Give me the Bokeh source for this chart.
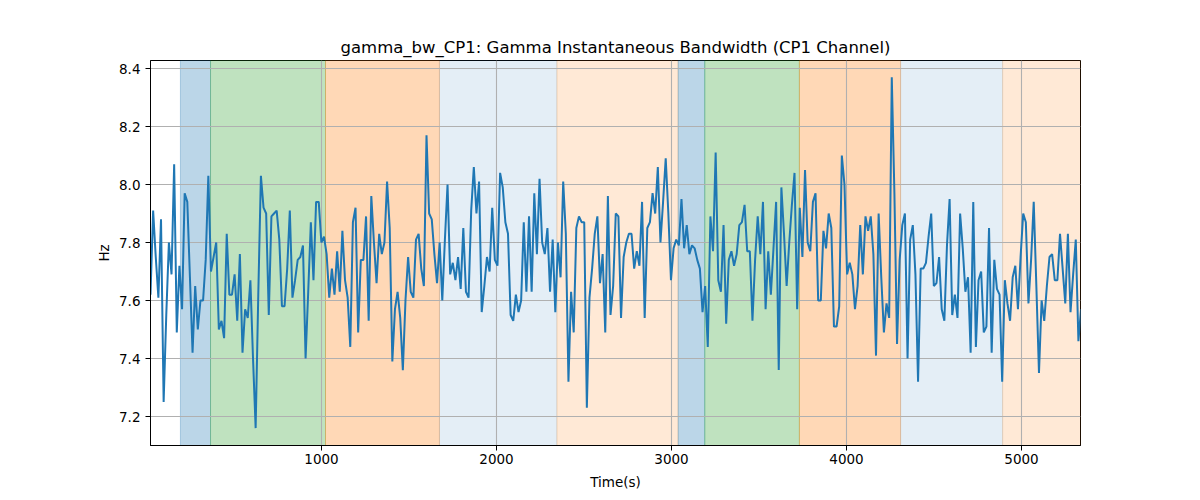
from bokeh.plotting import figure
from bokeh.models import BoxAnnotation, FixedTicker, PrintfTickFormatter, Range1d
from bokeh.embed import file_html
from bokeh.resources import INLINE

# ---- data ----
T0 = 23.0
DT = 15.02
bandwidth = [
    7.62, 7.91, 7.75, 7.61, 7.88, 7.25, 7.55, 7.80, 7.69, 8.07,
    7.49, 7.72, 7.57, 7.97, 7.94, 7.68, 7.42, 7.65, 7.50, 7.60,
    7.60, 7.74, 8.03, 7.70, 7.75, 7.80, 7.50, 7.53, 7.47, 7.83,
    7.62, 7.62, 7.69, 7.53, 7.76, 7.42, 7.57, 7.54, 7.67, 7.40,
    7.16, 7.62, 8.03, 7.92, 7.90, 7.55, 7.89, 7.90, 7.91, 7.81,
    7.58, 7.58, 7.71, 7.91, 7.61, 7.67, 7.74, 7.75, 7.79, 7.40,
    7.63, 7.87, 7.67, 7.94, 7.94, 7.80, 7.82, 7.76, 7.61, 7.71,
    7.62, 7.77, 7.63, 7.84, 7.67, 7.61, 7.44, 7.87, 7.92, 7.49,
    7.74, 7.74, 7.89, 7.53, 7.96, 7.80, 7.66, 7.83, 7.76, 7.80,
    8.01, 7.85, 7.39, 7.57, 7.63, 7.54, 7.36, 7.60, 7.75, 7.63,
    7.61, 7.81, 7.83, 7.71, 7.65, 8.17, 7.90, 7.88, 7.76, 7.66,
    7.80, 7.60, 7.81, 8.00, 7.69, 7.73, 7.67, 7.75,
    7.64, 7.85, 7.63, 7.61, 7.91, 8.06, 7.90, 8.01, 7.56, 7.65,
    7.75, 7.70, 7.92, 7.74, 7.72, 8.04, 7.99, 7.87, 7.83, 7.55,
    7.53, 7.62, 7.56, 7.60, 7.87, 7.63, 7.89, 7.63, 7.97, 7.76,
    8.02, 7.80, 7.76, 7.85, 7.63, 7.81, 7.56, 7.80, 7.68, 8.01,
    7.83, 7.32, 7.63, 7.49, 7.85, 7.89, 7.87, 7.87, 7.23, 7.61,
    7.71, 7.83, 7.89, 7.66, 7.76, 7.49, 7.96,
    7.55, 7.65, 7.90, 7.89, 7.54, 7.75, 7.80, 7.83, 7.83, 7.71,
    7.77, 7.72, 7.94, 7.54, 7.85, 7.87, 7.97, 7.90, 8.06, 7.80,
    7.94, 8.09, 7.90, 7.67, 7.78, 7.81, 7.79, 7.95, 7.78, 7.86,
    7.76, 7.79, 7.78, 7.74, 7.71, 7.56, 7.65, 7.44, 7.89, 7.77,
    8.11, 7.67, 7.63, 7.86, 7.52, 7.74, 7.77, 7.72, 7.76, 7.86,
    7.87, 7.93, 7.77, 7.77, 7.53, 7.74, 7.89,
    7.76, 7.94, 7.57, 7.77, 7.62, 7.78, 7.94, 7.36, 7.99, 7.83,
    7.65, 7.80, 7.93, 8.04, 7.57, 7.92, 7.75, 8.05, 7.80, 7.77,
    7.94, 7.97, 7.60, 7.60, 7.84, 7.78, 7.90, 7.85, 7.51, 7.51,
    7.58, 8.10, 8.00, 7.69, 7.73, 7.69, 7.57, 7.65, 7.86, 7.69,
    7.89, 7.84, 7.89, 7.76, 7.41, 7.90, 7.68, 7.49, 7.59, 7.54,
    8.37, 7.97, 7.45, 7.74, 7.86, 7.90, 7.40,
    7.81, 7.86, 7.69, 7.32, 7.71, 7.71, 7.73, 7.82, 7.90, 7.65,
    7.66, 7.75, 7.57, 7.53, 7.79, 7.95, 7.55, 7.62, 7.54, 7.90,
    7.78, 7.63, 7.68, 7.42, 7.94, 7.44, 7.67, 7.70, 7.49, 7.51,
    7.85, 7.42, 7.74, 7.64, 7.62, 7.32, 7.67, 7.59, 7.53, 7.68,
    7.72, 7.57, 7.75, 7.90, 7.87, 7.59, 7.74, 7.94, 7.65, 7.35,
    7.60, 7.53, 7.65, 7.75, 7.76, 7.67, 7.67, 7.83, 7.71, 7.59,
    7.83, 7.56, 7.69, 7.81, 7.46, 7.57,
]
time_s = [T0 + i * DT for i in range(len(bandwidth))]

span_start = [194, 366, 1023, 1674, 2345, 3038, 3190, 3731, 4309, 4892]
span_end = [366, 1023, 1674, 2345, 3038, 3190, 3731, 4309, 4892, 5340]
span_color = ["#1f77b4", "#2ca02c", "#ff7f0e", "#1f77b4", "#ff7f0e",
              "#1f77b4", "#2ca02c", "#ff7f0e", "#1f77b4", "#ff7f0e"]
span_alpha = [0.3, 0.3, 0.3, 0.12, 0.17, 0.3, 0.3, 0.3, 0.12, 0.17]

x_ticks = [1000, 2000, 3000, 4000, 5000]
y_ticks = [7.2, 7.4, 7.6, 7.8, 8.0, 8.2, 8.4]
X_MIN, X_MAX = 23, 5337
Y_MIN, Y_MAX = 7.1, 8.4276

FONT = "DejaVu Sans"

p = figure(
    width=1200, height=500,
    x_range=Range1d(X_MIN, X_MAX), y_range=Range1d(Y_MIN, Y_MAX),
    output_backend="svg", toolbar_location=None,
    title="gamma_bw_CP1: Gamma Instantaneous Bandwidth (CP1 Channel)",
    min_border_left=150, min_border_right=120,
    min_border_top=60, min_border_bottom=55,
)
p.background_fill_color = "white"
p.border_fill_color = "white"
p.outline_line_color = "black"
p.outline_line_width = 1

p.title.align = "center"
p.title.text_font = FONT
p.title.text_font_size = "16.5px"
p.title.text_font_style = "normal"
p.title.text_color = "black"
p.title.standoff = 7

for s, e, c, a in zip(span_start, span_end, span_color, span_alpha):
    box = BoxAnnotation(left=s, right=e, fill_color=c, fill_alpha=a,
                        line_color=c, line_alpha=a, line_width=1,
                        level="image")
    p.add_layout(box)

p.line(time_s, bandwidth, line_color="#1f77b4", line_width=2)

p.xaxis.ticker = FixedTicker(ticks=x_ticks)
p.yaxis.ticker = FixedTicker(ticks=y_ticks)
p.yaxis.formatter = PrintfTickFormatter(format="%.1f")

for ax in (p.xaxis[0], p.yaxis[0]):
    ax.axis_line_color = "black"
    ax.major_tick_line_color = "black"
    ax.major_tick_out = 5
    ax.major_tick_in = 0
    ax.minor_tick_line_color = None
    ax.major_label_text_font = FONT
    ax.major_label_text_font_size = "13.5px"
    ax.major_label_text_color = "black"
    ax.axis_label_text_font = FONT
    ax.axis_label_text_font_size = "13.5px"
    ax.axis_label_text_font_style = "normal"
    ax.axis_label_text_color = "black"

p.xaxis.axis_label = "Time(s)"
p.yaxis.axis_label = "Hz"
p.xaxis.major_label_standoff = 3
p.yaxis.major_label_standoff = 5
p.xaxis.axis_label_standoff = 7
p.yaxis.axis_label_standoff = 4

p.grid.grid_line_color = "#b0b0b0"
p.grid.grid_line_width = 1.1

open("out.html", "w").write(file_html(p, INLINE))
